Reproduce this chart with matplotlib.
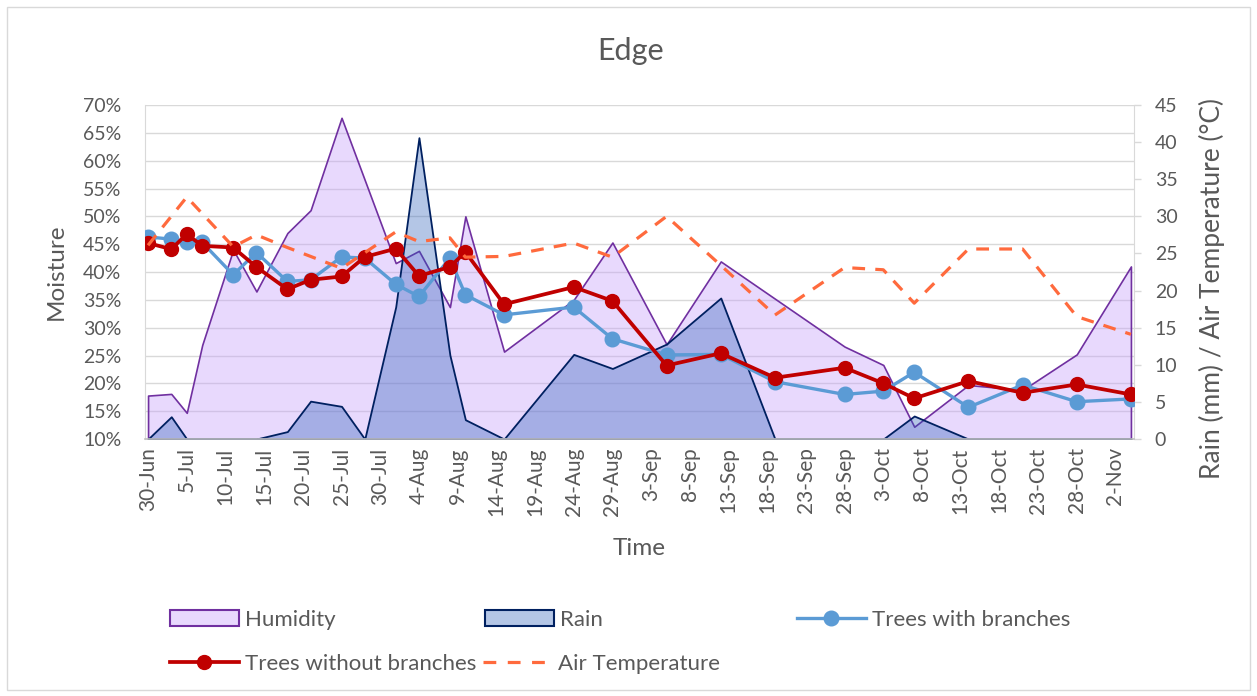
import matplotlib
matplotlib.use('Agg')
import matplotlib.pyplot as plt
from matplotlib.lines import Line2D
from matplotlib.patches import Patch, Rectangle
from matplotlib.ticker import PercentFormatter
import pandas as pd

plt.rcParams['font.family'] = ['Lato', 'DejaVu Sans']
txt = '#595959'

#%% data -------------------------------------------------------------------------------------
# sampling days for the moisture probes (rain is logged on the same days)
tree_dates = ['2019-06-30', '2019-07-03', '2019-07-05', '2019-07-07', '2019-07-11', '2019-07-14',
              '2019-07-18', '2019-07-21', '2019-07-25', '2019-07-28', '2019-08-01', '2019-08-04',
              '2019-08-08', '2019-08-10', '2019-08-15', '2019-08-24', '2019-08-29', '2019-09-05',
              '2019-09-12', '2019-09-19', '2019-09-28', '2019-10-03', '2019-10-07', '2019-10-14',
              '2019-10-21', '2019-10-28', '2019-11-04']
with_branches = [46.3, 45.9, 45.4, 45.3, 39.5, 43.5, 38.3, 38.6, 42.7, 42.5, 37.8, 35.6, 42.5, 35.9,
                 32.3, 33.7, 28.0, 25.1, 25.2, 20.3, 18.0, 18.6, 22.0, 15.7, 19.7, 16.7, 17.2]
without_branches = [45.2, 44.1, 46.8, 44.7, 44.4, 40.9, 36.9, 38.6, 39.2, 42.7, 44.2, 39.3, 40.9, 43.6,
                    34.2, 37.3, 34.8, 23.2, 25.4, 21.0, 22.8, 20.0, 17.3, 20.4, 18.3, 19.8, 18.0]
rain = [0.0, 3.0, 0.0, 0.0, 0.0, 0.0, 1.0, 5.1, 4.4, 0.0, 17.8, 40.6, 11.3, 2.6,
        0.0, 11.4, 9.5, 12.8, 19.0, 0.0, 0.0, 0.0, 3.1, 0.0, 0.0, 0.0, 0.0]

hum_dates = ['2019-06-30', '2019-07-03', '2019-07-05', '2019-07-07', '2019-07-11', '2019-07-14',
             '2019-07-18', '2019-07-21', '2019-07-25', '2019-08-01', '2019-08-04', '2019-08-08',
             '2019-08-10', '2019-08-15', '2019-08-24', '2019-08-29', '2019-09-05', '2019-09-12',
             '2019-09-28', '2019-10-03', '2019-10-07', '2019-10-14', '2019-10-21', '2019-10-28',
             '2019-11-04']
humidity = [17.8, 18.1, 14.7, 26.9, 44.0, 36.5, 47.0, 51.1, 67.7, 41.6, 43.8, 33.7, 50.0, 25.7,
            35.0, 45.3, 27.0, 41.9, 26.6, 23.3, 12.2, 19.7, 18.8, 25.2, 41.0]

temp_dates = ['2019-06-30', '2019-07-05', '2019-07-11', '2019-07-14', '2019-07-18', '2019-07-25',
              '2019-08-01', '2019-08-04', '2019-08-08', '2019-08-10', '2019-08-15', '2019-08-24',
              '2019-08-29', '2019-09-05', '2019-09-12', '2019-09-19', '2019-09-28', '2019-10-03',
              '2019-10-07', '2019-10-14', '2019-10-21', '2019-10-28', '2019-11-04']
air_temp = [26.1, 32.6, 25.9, 27.5, 25.8, 23.0, 27.9, 26.6, 27.1, 24.5, 24.6, 26.4,
            24.5, 30.0, 23.4, 16.7, 23.1, 22.8, 18.3, 25.6, 25.6, 16.5, 14.1]

tick_dates = pd.date_range('2019-06-30', '2019-11-02', freq='5D')
tick_labels = [f'{d.day}-{d:%b}' for d in tick_dates]

td = pd.to_datetime(tree_dates)
hd = pd.to_datetime(hum_dates)
tp = pd.to_datetime(temp_dates)

#%% figure -----------------------------------------------------------------------------------
fig = plt.figure(figsize=(12.57, 6.96), dpi=100)
W, H = 1257, 696
ax = fig.add_axes([145/W, 1-439/H, (1134-145)/W, (439-105)/H])
ax2 = ax.twinx()   # rain + right axis
ax3 = ax.twinx()   # moisture lines on top of the areas
ax4 = ax.twinx()   # air temperature, topmost

c_hum = (0.78, 0.63, 0.98, 0.4)
c_rain = (0.16, 0.37, 0.73, 0.35)
ax.fill_between(hd, 10, humidity, facecolor=c_hum, edgecolor='#7030A0', lw=1.2)
ax2.fill_between(td, 0, rain, facecolor=c_rain, edgecolor='#002060', lw=1.3)
ax3.plot(td, with_branches, color='#5B9BD5', lw=2.4, marker='o', ms=10.5)
ax3.plot(td, without_branches, color='#C00000', lw=2.7, marker='o', ms=10)
ax4.plot(tp, air_temp, color='#FF6A3D', lw=2.3, dashes=(4, 3.2))

x0 = td[0] - pd.Timedelta(hours=9.5)
x1 = td[-1] + pd.Timedelta(hours=9.5)
ax.set_xlim(x0, x1)

ax.set_ylim(10, 70)
ax.set_yticks(range(10, 71, 5))
ax.yaxis.set_major_formatter(PercentFormatter(decimals=0))
ax.grid(axis='y', color='#D9D9D9', lw=1.0)
ax.set_axisbelow(True)
ax.tick_params(axis='y', length=0, pad=17, labelsize=14, labelcolor=txt)
ax.set_xticks(tick_dates)
ax.set_xticklabels(tick_labels, rotation=90)
ax.tick_params(axis='x', length=0, pad=6, labelsize=15, labelcolor=txt)
for s in ['top', 'right', 'bottom']:
    ax.spines[s].set_visible(False)
ax.spines['left'].set_color('#D9D9D9')

ax2.set_ylim(0, 45)
ax2.set_yticks(range(0, 46, 5))
ax2.tick_params(axis='y', length=5, width=1, color='#D9D9D9', pad=10, labelsize=14, labelcolor=txt)
for s in ['top', 'left', 'bottom']:
    ax2.spines[s].set_visible(False)
ax2.spines['right'].set_color('#D9D9D9')

ax3.set_ylim(10, 70)
ax3.yaxis.set_visible(False)
for s in ax3.spines.values():
    s.set_visible(False)

ax4.set_ylim(0, 45)
ax4.yaxis.set_visible(False)
for s in ['top', 'left', 'right']:
    ax4.spines[s].set_visible(False)
ax4.spines['bottom'].set_color('#BFBFBF')
ax4.spines['bottom'].set_linewidth(1.2)

ax.set_ylabel('Moisture', fontsize=17.5, color=txt)
ax.yaxis.set_label_coords(-0.079, 0.5)
ax2.set_ylabel('Rain (mm) / Air Temperature (°C)', fontsize=19, color=txt)
ax2.yaxis.set_label_coords(1.066, 0.45)
ax.set_xlabel('Time', fontsize=17.5, color=txt)
ax.xaxis.set_label_coords(0.5, -0.295)

fig.text(631/W, 1-51/H, 'Edge', ha='center', va='center', fontsize=22, color=txt)

#%% legend -----------------------------------------------------------------------------------
entries = [
    (Patch(facecolor=c_hum, edgecolor='#7030A0', lw=1.5), 'Humidity', 170, 620),
    (Patch(facecolor=c_rain, edgecolor='#002060', lw=1.5), 'Rain', 485, 620),
    (Line2D([], [], color='#5B9BD5', lw=2.4, marker='o', ms=10.5), 'Trees with branches', 797, 620),
    (Line2D([], [], color='#C00000', lw=2.7, marker='o', ms=10), 'Trees without branches', 170, 664),
    (Line2D([], [], color='#FF6A3D', lw=2.3, dashes=(4, 3.6)), 'Air Temperature', 483, 664),
]
for h, lab, x, y in entries:
    fig.legend([h], [lab], loc='center left', bbox_to_anchor=(x/W, 1-y/H), frameon=False,
               borderpad=0, borderaxespad=0, handlelength=68/22, handletextpad=0.3,
               numpoints=1, fontsize=16, labelcolor=txt)

fig.patches.append(Rectangle((7/W, 6/H), (1250-7)/W, (689-6)/H, transform=fig.transFigure,
                             fill=False, edgecolor='#D9D9D9', lw=1))

plt.savefig('out.png', dpi=100)
